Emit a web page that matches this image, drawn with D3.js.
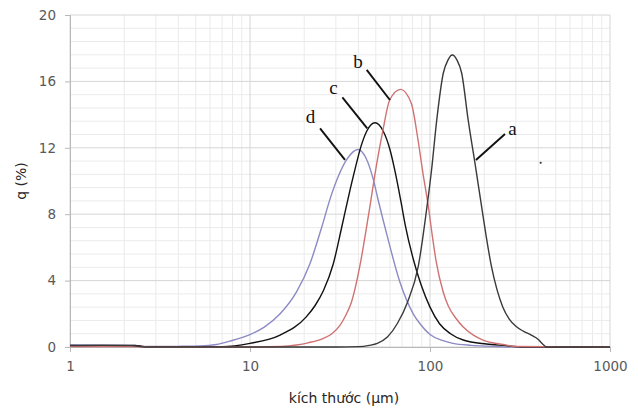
<!DOCTYPE html>
<html><head><meta charset="utf-8">
<script src="https://cdn.jsdelivr.net/npm/d3@7"></script>
<style>body{margin:0;background:#fff} svg{display:block}</style>
</head><body><svg id="chart" width="638" height="409"></svg>
<script>
// ---- data ----
const xTicks = [1, 10, 100, 1000];
const yTicks = [0, 4, 8, 12, 16, 20];
const xTitle = "kích thước (μm)";
const yTitle = "q (%)";

const sizesA = [1, 1.5, 2.2, 2.6, 10, 30, 40, 46, 51, 58, 66, 75, 86, 96.6, 102, 109, 118.5, 126, 133, 141, 150, 163, 179, 191, 205, 219, 235, 254, 275, 300, 330, 365, 400, 425, 445, 1000];
const qA     = [0.08, 0.1, 0.08, 0, 0, 0, 0.02, 0.1, 0.22, 0.6, 1.43, 2.7, 4.84, 8.6, 10.66, 13.67, 16.49, 17.3, 17.59, 17.3, 16.49, 13.67, 10.86, 8.86, 6.7, 4.9, 3.5, 2.4, 1.7, 1.25, 0.95, 0.72, 0.45, 0.15, 0, 0];

const sizesB = [1, 2.3, 3, 10, 15, 18.1, 21, 25.6, 28.5, 31.6, 34, 36.6, 40.8, 45.4, 50.5, 54.8, 59.7, 68.7, 78.7, 85.8, 91.4, 97.5, 103, 108, 118.5, 126, 140, 153, 175, 197, 255, 300, 1000];
const qB     = [0.03, 0.03, 0, 0, 0.03, 0.12, 0.25, 0.52, 0.8, 1.3, 1.9, 2.7, 4.9, 7.85, 11.0, 13.07, 14.88, 15.52, 14.68, 12.47, 10.46, 8.6, 6.7, 5.2, 3.3, 2.5, 1.7, 1.2, 0.7, 0.42, 0.15, 0.03, 0];

const sizesC = [1, 2.3, 2.6, 7, 10, 14.7, 20.6, 23, 25.6, 29, 32.3, 35.5, 38.3, 41.4, 44.5, 49.5, 55, 59.9, 63.6, 68.7, 73, 80.7, 89.5, 100, 113, 130, 153, 206, 266, 320, 1000];
const qC     = [0.1, 0.1, 0.02, 0.02, 0.22, 0.72, 1.83, 2.5, 3.4, 5.0, 7.2, 9.2, 10.7, 12.1, 13.0, 13.51, 13.0, 11.9, 10.7, 8.86, 7.3, 5.3, 3.7, 2.4, 1.4, 0.8, 0.42, 0.18, 0.08, 0, 0];

const sizesD = [1, 2.3, 2.6, 4, 5.3, 6.5, 7.7, 10, 12, 14.7, 18.1, 21.5, 25, 28, 31, 34.5, 39.8, 44, 48.4, 51.4, 57.5, 68.1, 80.7, 88, 100, 117, 134, 170, 206, 300, 1000];
const qD     = [0.12, 0.1, 0.03, 0.04, 0.06, 0.15, 0.35, 0.75, 1.2, 2.0, 3.3, 5.0, 7.2, 9.0, 10.3, 11.3, 11.9, 11.4, 10.1, 8.9, 6.8, 3.9, 2.0, 1.4, 0.75, 0.4, 0.22, 0.1, 0.05, 0, 0];

const seriesNames  = ["a", "b", "c", "d"];
const seriesColors = ["#3a3a3a", "#d07272", "#111111", "#8c8ac4"];

// annotation labels (data units: size µm, q %)
const labelText = ["a", "b", "c", "d"];
const labelAt   = [[287, 12.77], [39.8, 16.81], [29.1, 15.24], [21.7, 13.49]];
const leaderFrom = [[261, 12.83], [44.5, 16.69], [32.6, 15.04], [24.5, 13.17]];
const leaderTo   = [[180, 11.27], [59.9, 14.88], [44.8, 13.17], [33.7, 11.27]];
const strayDot = [[412, 11.1]];

// ---- drawing ----
const svg = d3.select("#chart");
const L = 70, R = 610, T = 15, B = 347;
const x = d3.scaleLog().domain([1, 1000]).range([L, R]);
const y = d3.scaleLinear().domain([0, 20]).range([B, T]);

const g = svg.append("g");
const minorX = [];
[1, 10, 100].forEach(d => { for (let k = 2; k <= 9; k++) minorX.push(d * k); });
g.selectAll(".mx").data(minorX).enter().append("line")
  .attr("x1", d => x(d)).attr("x2", d => x(d)).attr("y1", T).attr("y2", B)
  .attr("stroke", "#ebebeb").attr("stroke-width", 1);
const minorY = d3.range(0, 20.001, 0.8).filter(v => Math.abs(v / 4 - Math.round(v / 4)) > 1e-6);
g.selectAll(".my").data(minorY).enter().append("line")
  .attr("x1", L).attr("x2", R).attr("y1", d => y(d)).attr("y2", d => y(d))
  .attr("stroke", "#ebebeb").attr("stroke-width", 1);
g.selectAll(".Mx").data(xTicks).enter().append("line")
  .attr("x1", d => x(d)).attr("x2", d => x(d)).attr("y1", T).attr("y2", B)
  .attr("stroke", "#d6d6d6").attr("stroke-width", 1);
g.selectAll(".My").data(yTicks).enter().append("line")
  .attr("x1", L).attr("x2", R).attr("y1", d => y(d)).attr("y2", d => y(d))
  .attr("stroke", "#d6d6d6").attr("stroke-width", 1);

const xAxis = d3.axisBottom(x).tickValues(xTicks).tickFormat(d3.format("d")).tickSize(5).tickPadding(9);
const yAxis = d3.axisLeft(y).tickValues(yTicks).tickSize(5).tickPadding(9);
const gx = svg.append("g").attr("transform", `translate(0,${B})`).call(xAxis);
const gy = svg.append("g").attr("transform", `translate(${L},0)`).call(yAxis);
[gx, gy].forEach(a => {
  a.select(".domain").attr("stroke", "#b8b8b8");
  a.selectAll(".tick line").attr("stroke", "#b8b8b8");
  a.selectAll(".tick text").attr("fill", "#595959")
    .style("font-family", "'DejaVu Sans', sans-serif").style("font-size", "13.5px");
});

const line = d3.line().x(d => x(d[0])).y(d => y(d[1])).curve(d3.curveMonotoneX);
const allSizes = [sizesA, sizesB, sizesC, sizesD];
const allQ = [qA, qB, qC, qD];
[3, 2, 1, 0].forEach(i => {
  const pts = allSizes[i].map((s, j) => [s, allQ[i][j]]);
  svg.append("path").datum(pts).attr("d", line)
    .attr("fill", "none").attr("stroke", seriesColors[i]).attr("stroke-width", 1.4)
    .attr("stroke-linejoin", "round");
});

svg.selectAll(".lead").data(leaderFrom).enter().append("line")
  .attr("x1", d => x(d[0])).attr("y1", d => y(d[1]))
  .attr("x2", (d, i) => x(leaderTo[i][0])).attr("y2", (d, i) => y(leaderTo[i][1]))
  .attr("stroke", "#111").attr("stroke-width", 1.9);
svg.selectAll(".lab").data(labelAt).enter().append("text")
  .attr("x", d => x(d[0])).attr("y", d => y(d[1]))
  .attr("text-anchor", "middle")
  .style("font-family", "'Liberation Serif', 'Times New Roman', serif")
  .style("font-size", "19px").attr("fill", "#111")
  .text((d, i) => labelText[i]);
svg.selectAll(".dot").data(strayDot).enter().append("circle")
  .attr("cx", d => x(d[0])).attr("cy", d => y(d[1])).attr("r", 1.1).attr("fill", "#333");

svg.append("text").attr("x", 344).attr("y", 403).attr("text-anchor", "middle")
  .style("font-family", "'DejaVu Sans', sans-serif").style("font-size", "14px")
  .attr("fill", "#262626").text(xTitle);
svg.append("text").attr("transform", "translate(26,181) rotate(-90)").attr("text-anchor", "middle")
  .style("font-family", "'DejaVu Sans', sans-serif").style("font-size", "14px")
  .attr("fill", "#262626").text(yTitle);
</script>
</body></html>
